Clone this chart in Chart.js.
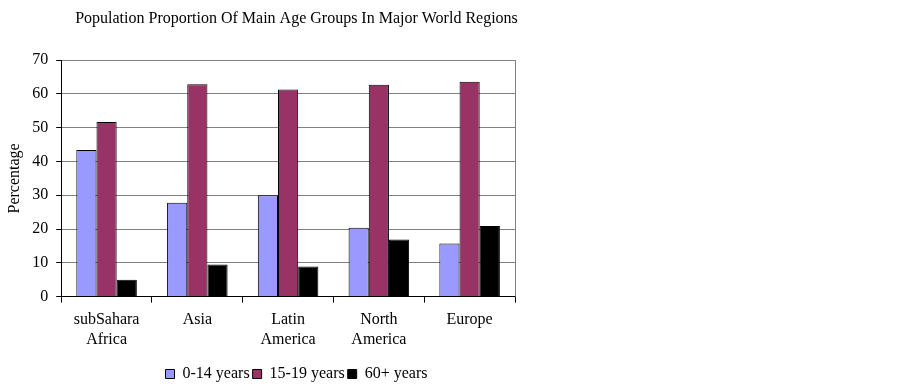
<!DOCTYPE html>
<html>
<head>
<meta charset="utf-8">
<script src="https://cdn.jsdelivr.net/npm/chart.js@4/dist/chart.umd.min.js"></script>
<style>
  html, body { margin: 0; padding: 0; background: #fff; }
  #wrap { position: relative; width: 592px; height: 385px; }
</style>
</head>
<body>
<div id="wrap"><canvas id="popChart"></canvas></div>
<script>
const regions = [["subSahara", "Africa"], "Asia", ["Latin", "America"], ["North", "America"], "Europe"];
const age0to14 = [43.4, 27.8, 30.0, 20.4, 15.7];
const age15to19 = [51.7, 62.9, 61.3, 62.7, 63.6];
const age60plus = [5.0, 9.5, 8.9, 16.9, 20.9];
const yTicks = [0, 10, 20, 30, 40, 50, 60, 70];

const serif = "'Liberation Serif', 'Times New Roman', serif";

// grey frame on the right side of the plot
const frame = {
  id: "frame",
  afterDraw(chart) {
    const a = chart.chartArea;
    const ctx = chart.ctx;
    ctx.save();
    ctx.strokeStyle = "#808080";
    ctx.lineWidth = 1;
    ctx.beginPath();
    ctx.moveTo(Math.round(a.right) + 0.5, a.top);
    ctx.lineTo(Math.round(a.right) + 0.5, a.bottom);
    ctx.stroke();
    ctx.restore();
  }
};

const ctx = document.getElementById("popChart").getContext("2d");
new Chart(ctx, {
  type: "bar",
  data: {
    labels: regions,
    datasets: [
      { label: "0-14 years", data: age0to14, backgroundColor: "#9999FF", borderColor: "#000", borderWidth: 1 },
      { label: "15-19 years", data: age15to19, backgroundColor: "#993366", borderColor: "#000", borderWidth: 1 },
      { label: "60+ years", data: age60plus, backgroundColor: "#000000", borderColor: "#000", borderWidth: 1 }
    ]
  },
  options: {
    responsive: true,
    maintainAspectRatio: false,
    animation: false,
    layout: { padding: { left: 1, right: 0, top: 0, bottom: -7 } },
    datasets: { bar: { categoryPercentage: 0.667, barPercentage: 1.0 } },
    plugins: {
      title: {
        display: true,
        text: "Population Proportion Of Main Age Groups In Major World Regions",
        color: "#000",
        font: { family: serif, size: 16, weight: "normal" },
        padding: { top: 9, bottom: 32 }
      },
      legend: {
        position: "bottom",
        labels: {
          color: "#000",
          font: { family: serif, size: 16 },
          boxWidth: 9,
          boxHeight: 9,
          padding: 3
        }
      },
      tooltip: { enabled: false }
    },
    scales: {
      x: {
        grid: { offset: true, drawOnChartArea: false, color: "#000", tickLength: 6 },
        border: { color: "#000", width: 1 },
        ticks: { color: "#000", font: { family: serif, size: 16 }, padding: 8, maxRotation: 0 },
        afterFit(scale) { scale.height += 6; }
      },
      y: {
        min: 0,
        max: 70,
        afterBuildTicks(scale) { scale.ticks = yTicks.map(v => ({ value: v })); },
        grid: { color: "#808080", tickColor: "#000", tickLength: 5 },
        border: { color: "#000", width: 1 },
        ticks: { color: "#000", font: { family: serif, size: 16 }, padding: 8 },
        title: {
          display: true,
          text: "Percentage",
          color: "#000",
          font: { family: serif, size: 16 },
          padding: { top: 4, bottom: 0 }
        }
      },
      spacer: {
        position: "right",
        grid: { display: false },
        border: { display: false },
        ticks: { display: false },
        afterFit(scale) { scale.width = 77; }
      }
    }
  },
  plugins: [frame]
});
</script>
</body>
</html>
